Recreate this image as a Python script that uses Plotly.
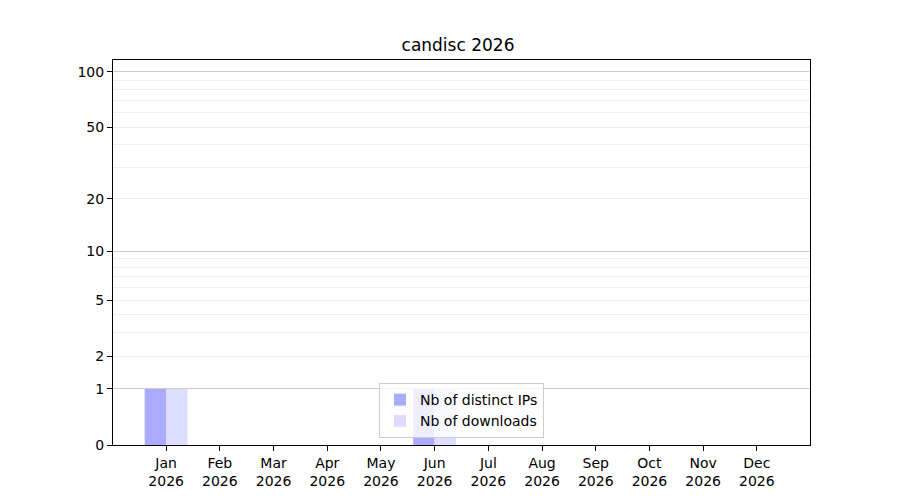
import numpy as np
import plotly.graph_objects as go

# Monthly counts for 2026
months = ["Jan", "Feb", "Mar", "Apr", "May", "Jun", "Jul", "Aug", "Sep", "Oct", "Nov", "Dec"]
year = "2026"
distinct_ips = [1, 0, 0, 0, 0, 1, 0, 0, 0, 0, 0, 0]
downloads = [1, 0, 0, 0, 0, 1, 0, 0, 0, 0, 0, 0]

# y axis ticks (log(1+y) scale)
y_ticks = [0, 1, 2, 5, 10, 20, 50, 100]
y_major_grid = [1, 10, 100]
y_minor_grid = [2, 3, 4, 5, 6, 7, 8, 9, 20, 30, 40, 50, 60, 70, 80, 90]
y_top = 116


def tr(v):
    # the axis is linear in log10(1 + y)
    return np.log10(1 + np.asarray(v, dtype=float))


x = np.arange(len(months))
tick_text = [f"{m}<br>{year}" for m in months]
font = "DejaVu Sans, Liberation Sans, sans-serif"

fig = go.Figure()
fig.add_trace(go.Bar(x=x, y=tr(distinct_ips), offset=-0.4, width=0.4,
                     name="Nb of distinct IPs", marker=dict(color="#aaaaff", line=dict(width=0))))
fig.add_trace(go.Bar(x=x, y=tr(downloads), offset=0.0, width=0.4,
                     name="Nb of downloads", marker=dict(color="#ddddff", line=dict(width=0))))

y_range = [0, float(tr(y_top))]

# page body has an 8px margin, so margins are shifted to compensate
fig.update_layout(
    width=900, height=500,
    margin=dict(l=105, r=98, t=52, b=63),
    paper_bgcolor="white", plot_bgcolor="white",
    barmode="overlay",
    font=dict(family=font, size=14, color="black"),
    title=dict(text="candisc 2026", x=0.5, xanchor="center", y=0.925, yanchor="middle",
               font=dict(size=17)),
    showlegend=True,
    legend=dict(x=0.5, xanchor="center", y=0.018, yanchor="bottom",
                bgcolor="rgba(255,255,255,0.8)", bordercolor="#cccccc", borderwidth=1,
                font=dict(size=14), tracegroupgap=0),
    xaxis=dict(range=[-0.99, 11.99], tickmode="array", tickvals=x, ticktext=tick_text,
               showgrid=False, zeroline=False, showline=True, linecolor="black", linewidth=1,
               mirror=True, ticks="outside", ticklen=5, tickcolor="black"),
    yaxis=dict(range=y_range, tickmode="array", tickvals=tr(y_ticks),
               ticktext=[str(v) for v in y_ticks],
               showgrid=True, gridcolor="#ececec", gridwidth=1,
               minor=dict(tickmode="array", tickvals=tr(y_minor_grid), showgrid=True,
                          gridcolor="#efefef", gridwidth=1, ticks=""),
               zeroline=False, showline=True, linecolor="black", linewidth=1,
               mirror=True, ticks="outside", ticklen=5, tickcolor="black"),
    yaxis2=dict(range=y_range, overlaying="y", side="left", tickmode="array",
                tickvals=tr(y_major_grid), showticklabels=False, ticks="",
                showgrid=True, gridcolor="#cccccc", gridwidth=1, zeroline=False,
                showline=False),
)
# invisible trace so the overlay axis (major grid) is drawn
fig.add_trace(go.Scatter(x=[x[0]], y=[0], yaxis="y2", mode="markers",
                         marker=dict(opacity=0), showlegend=False, hoverinfo="skip"))

fig.write_html("out.html")
